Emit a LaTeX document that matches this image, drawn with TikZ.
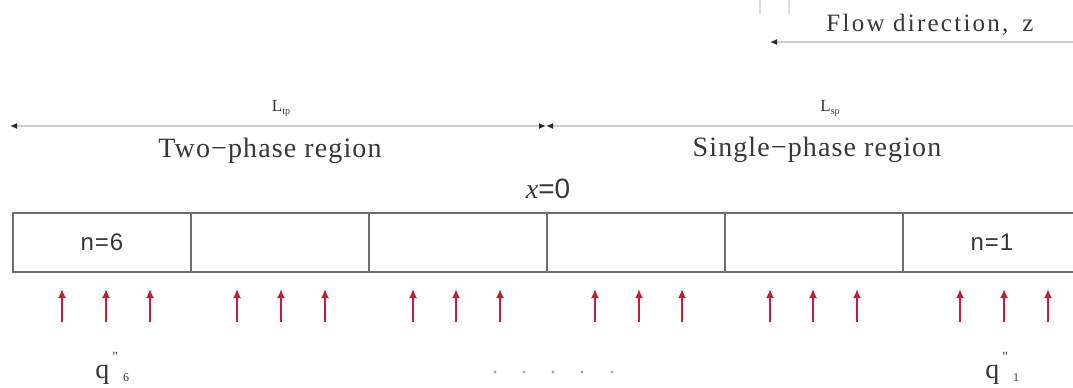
\documentclass[tikz,border=0pt]{standalone}
\usepackage{fontspec}
\usepackage{xcolor}
\usepackage{tikz}
\usetikzlibrary{arrows.meta, positioning, calc}
\setmainfont{Liberation Serif}
\newfontfamily\regionfont[LetterSpace=4]{Liberation Serif}
\newfontfamily\flowfont[LetterSpace=9]{Liberation Serif}
\newfontfamily\cellfont[LetterSpace=4]{Liberation Sans}
\definecolor{hred}{RGB}{195, 30, 55}
\definecolor{wallgray}{RGB}{110, 110, 110}
\definecolor{dimgray}{RGB}{205, 205, 205}
\definecolor{txtgray}{RGB}{55, 55, 55}
\tikzset{
    cellbox/.style={draw=wallgray, line width=1pt, minimum width=89pt, minimum height=29.5pt,
        inner sep=0pt, outer sep=0pt, font=\cellfont\fontsize{12}{14}\selectfont, text=txtgray},
    dimline/.style={draw=dimgray, line width=0.9pt},
    dimtip/.style={-{Latex[length=3.5pt, width=3pt, color=black!85]}},
    dimtips/.style={{Latex[length=3.5pt, width=3pt, color=black!85]}-{Latex[length=3.5pt, width=3pt, color=black!85]}},
    heat/.style={draw=hred, line width=1pt, -{Latex[length=4.5pt, width=4pt]}},
    regionlbl/.style={anchor=base, inner sep=0pt, text=txtgray, font=\regionfont\fontsize{14}{16}\selectfont},
    lenlbl/.style={anchor=base, inner sep=0pt, text=txtgray, font=\fontsize{8.5}{10}\selectfont},
    fluxlbl/.style={anchor=base west, inner sep=0pt, text=txtgray, font=\fontsize{14}{16}\selectfont}
}

\begin{document}
\begin{tikzpicture}[x=0.5pt, y=-0.5pt]
        \useasboundingbox (0,0) rectangle (1073,387);

        % Cut edge of the figure above
        \draw[dimgray!70, line width=0.8pt] (760,0) -- (760,14);
        \draw[dimgray!70, line width=0.8pt] (789,0) -- (789,14);

        % Flow direction
        \node[anchor=base, inner sep=0pt, text=txtgray, font=\flowfont\fontsize{12.5}{14}\selectfont]
            (flow) at (930,31) {Flow direction,\hspace{7pt}z};
        \coordinate (flowS) at (1085,42);
        \coordinate (flowE) at (770,42);
        \draw[dimline, dimtip] (flowS) -- (flowE);

        % Region lengths
        \coordinate (tpL) at (10,126);
        \coordinate (xzero) at (546,126);
        \coordinate (spR) at (1085,126);
        \draw[dimline, dimtips] (tpL) -- (xzero);
        \draw[dimline, dimtips] (xzero) -- (spR);
        \node[lenlbl] (ltp) at (281,111) {L\raisebox{-0.5ex}{\fontsize{5}{5}\selectfont tp}};
        \node[lenlbl] (lsp) at (830,111) {L\raisebox{-0.5ex}{\fontsize{5}{5}\selectfont sp}};
        \node[regionlbl] (twophase) at (270,157) {Two−phase region};
        \node[regionlbl] (onephase) at (817,156) {Single−phase region};
        \node[anchor=base, inner sep=0pt, text=txtgray, font=\fontsize{14}{16}\selectfont]
            (xlbl) at (548,198) {\textit{x}{\fontspec{Liberation Sans}=0}};

        % Heated channel cells
        \foreach \i/\lbl in {1/n=6, 2/, 3/, 4/, 5/, 6/n=1} {
            \node[cellbox] (cell\i) at ({13+178*(\i-0.5)},242.5) {\lbl};
        }

        % Heat flux arrows
        \foreach \ax [count=\k] in {62,106,150, 237,281,325, 413,456,500, 595,639,682, 770,813,857, 960,1004,1048} {
            \coordinate (qa\k) at (\ax,322);
            \coordinate (qb\k) at (\ax,289);
            \draw[heat] (qa\k) -- (qb\k);
        }

        % Flux labels
        \node[fluxlbl] (q6) at (95,378) {q\hspace{1.5pt}\raisebox{1.3ex}{\fontsize{7}{7}\selectfont\textquotedbl}\hspace{2.5pt}\raisebox{-0.3ex}{\fontsize{6}{6}\selectfont 6}};
        \node[fluxlbl] (q1) at (985,378) {q\hspace{1.5pt}\raisebox{1.3ex}{\fontsize{7}{7}\selectfont\textquotedbl}\hspace{2.5pt}\raisebox{-0.3ex}{\fontsize{6}{6}\selectfont 1}};
        \foreach \dx in {495,524,553,582,612} {
            \fill[black!35] (\dx,372) circle (1.7);
        }
    \end{tikzpicture}
\end{document}
